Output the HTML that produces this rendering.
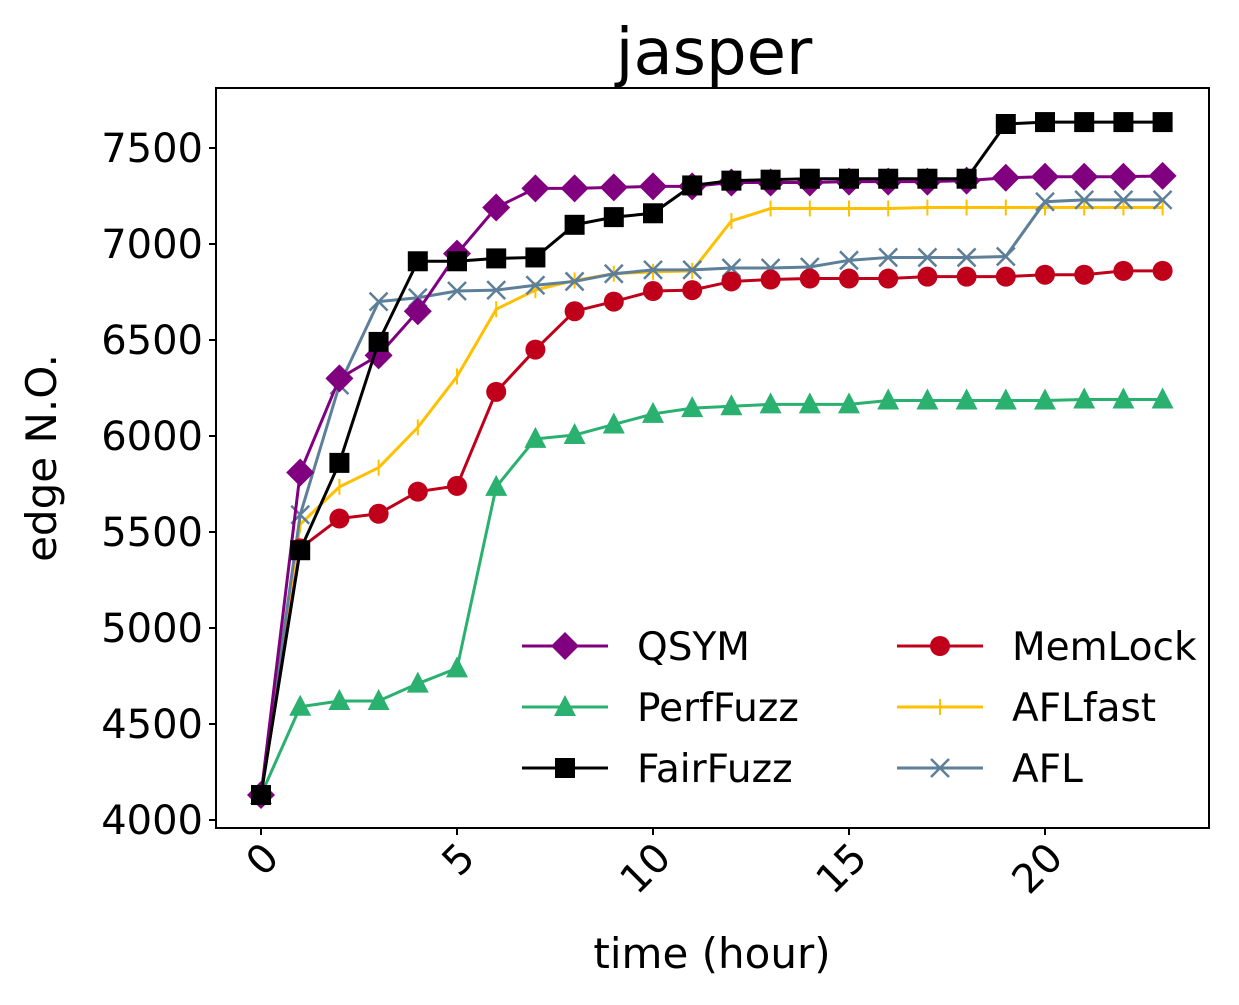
<!DOCTYPE html>
<html><head><meta charset="utf-8"><style>
body{margin:0;background:#fff}
svg text{font-family:"DejaVu Sans","Liberation Sans",sans-serif;fill:#000}
</style></head><body>
<svg id="c" width="1239" height="1000" xmlns="http://www.w3.org/2000/svg"></svg>
<script>
const hours=[0,1,2,3,4,5,6,7,8,9,10,11,12,13,14,15,16,17,18,19,20,21,22,23];
const qsym=[4130,5810,6300,6420,6650,6950,7190,7290,7290,7295,7300,7300,7320,7320,7320,7325,7325,7325,7330,7345,7350,7350,7350,7355];
const perffuzz=[4130,4590,4620,4620,4710,4790,5735,5985,6005,6060,6115,6145,6155,6165,6165,6165,6185,6185,6185,6185,6185,6190,6190,6190];
const fairfuzz=[4130,5405,5860,6490,6910,6910,6925,6930,7100,7140,7160,7305,7330,7335,7340,7340,7340,7340,7340,7625,7635,7635,7635,7635];
const memlock=[4130,5415,5570,5595,5710,5740,6230,6450,6650,6700,6755,6760,6805,6815,6820,6820,6820,6830,6830,6830,6840,6840,6860,6860];
const aflfast=[4130,5540,5735,5835,6045,6310,6660,6760,6810,6845,6855,6860,7120,7185,7185,7185,7185,7190,7190,7190,7190,7190,7190,7190];
const afl=[4130,5590,6265,6700,6720,6755,6760,6785,6805,6845,6865,6865,6875,6875,6880,6915,6930,6930,6930,6935,7220,7230,7230,7230];
const yTicks=[4000,4500,5000,5500,6000,6500,7000,7500];
const xTicks=[0,5,10,15,20];
const NS="http://www.w3.org/2000/svg",svg=document.getElementById('c');
const X=h=>261+h*39.2, Y=v=>820-(v-4000)*0.192;
function el(t,a,p){const e=document.createElementNS(NS,t);for(const k in a)e.setAttribute(k,a[k]);(p||svg).appendChild(e);return e;}
let t=el('text',{x:714,y:74,'text-anchor':'middle','font-size':64});t.textContent='jasper';

let fr=el('rect',{x:216,y:88,width:993,height:740,fill:'none',stroke:'#000','stroke-width':2});

yTicks.forEach(v=>{el('line',{x1:209,x2:216,y1:Y(v),y2:Y(v),stroke:'#000','stroke-width':2});
 const tt=el('text',{x:203,y:Y(v)+14,'text-anchor':'end','font-size':40});tt.textContent=v;
 });
xTicks.forEach(h=>{el('line',{x1:X(h),x2:X(h),y1:828,y2:835,stroke:'#000','stroke-width':2});
 const tt=el('text',{x:X(h)+20,y:860,'text-anchor':'end','font-size':40,transform:`rotate(-45 ${X(h)+20} 860)`});tt.textContent=h;
 });
t=el('text',{x:712,y:968,'text-anchor':'middle','font-size':42});t.textContent='time (hour)';

t=el('text',{x:56,y:458,'text-anchor':'middle','font-size':42,transform:'rotate(-90 56 458)'});t.textContent='edge N.O.';

function marker(type,x,y,c,g){
 if(type==='D')el('polygon',{points:`${x},${y-14} ${x+14},${y} ${x},${y+14} ${x-14},${y}`,fill:c},g);
 else if(type==='^')el('polygon',{points:`${x},${y-12} ${x+11},${y+9} ${x-11},${y+9}`,fill:c},g);
 else if(type==='s')el('rect',{x:x-10,y:y-10,width:20,height:20,fill:c},g);
 else if(type==='o')el('circle',{cx:x,cy:y,r:10,fill:c},g);
 else if(type==='|')el('line',{x1:x,x2:x,y1:y-8,y2:y+8,stroke:c,'stroke-width':2},g);
 else if(type==='x'){el('line',{x1:x-9,x2:x+9,y1:y-9,y2:y+9,stroke:c,'stroke-width':2.5},g);el('line',{x1:x-9,x2:x+9,y1:y+9,y2:y-9,stroke:c,'stroke-width':2.5},g);}
}
const series=[['QSYM',qsym,'#800080','D'],['PerfFuzz',perffuzz,'#2ab06f','^'],['FairFuzz',fairfuzz,'#000000','s'],['MemLock',memlock,'#c0001a','o'],['AFLfast',aflfast,'#ffc000','|'],['AFL',afl,'#5d7f99','x']];
const order=[1,4,5,3,0,2];
order.forEach(i=>{const [n,d,c,m]=series[i];
 const g=el('g',{});
 el('polyline',{points:d.map((v,k)=>X(hours[k])+','+Y(v)).join(' '),fill:'none',stroke:c,'stroke-width':3},g);
 d.forEach((v,k)=>marker(m,X(hours[k]),Y(v),c,g));});
series.forEach(([n,d,c,m],i)=>{const col=Math.floor(i/3),row=i%3;
 const x0=col?897:522,y=646+row*61;
 const g=el('g',{});
 el('line',{x1:x0,x2:x0+86,y1:y,y2:y,stroke:c,'stroke-width':3},g);marker(m,x0+43,y,c,g);
 const tt=el('text',{x:x0+115,y:y+14,'font-size':39},g);tt.textContent=n;});
</script>
</body></html>
